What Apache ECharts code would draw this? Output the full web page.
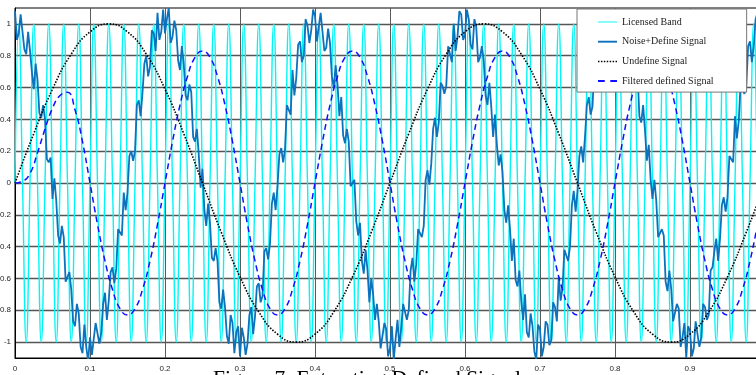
<!DOCTYPE html>
<html>
<head>
<meta charset="utf-8">
<title>Extracting Defined Signal</title>
<script src="https://cdn.jsdelivr.net/npm/echarts@6/dist/echarts.min.js"></script>
<style>
	html, body { margin: 0; padding: 0; background: #fff; }
	#chart { width: 756px; height: 375px; }
</style>
</head>
<body>
<div id="chart"></div>
<script>
	// values
	var xTicks = [0, 0.1, 0.2, 0.3, 0.4, 0.5, 0.6, 0.7, 0.8, 0.9, 1];
	var yTicks = [-1, -0.8, -0.6, -0.4, -0.2, 0, 0.2, 0.4, 0.6, 0.8, 1];
	var seriesNames = ['Licensed Band', 'Noise+Define Signal', 'Undefine Signal', 'Filtered defined Signal'];

	// step 0.005
	var licensedBand = [
		0, 1, 0, -1, 0, 1, 0, -1, 0, 1, 0, -1, 0, 1, 0, -1, 0, 1, 0, -1,
		0, 1, 0, -1, 0, 1, 0, -1, 0, 1, 0, -1, 0, 1, 0, -1, 0, 1, 0, -1,
		0, 1, 0, -1, 0, 1, 0, -1, 0, 1, 0, -1, 0, 1, 0, -1, 0, 1, 0, -1,
		0, 1, 0, -1, 0, 1, 0, -1, 0, 1, 0, -1, 0, 1, 0, -1, 0, 1, 0, -1,
		0, 1, 0, -1, 0, 1, 0, -1, 0, 1, 0, -1, 0, 1, 0, -1, 0, 1, 0, -1,
		0, 1, 0, -1, 0, 1, 0, -1, 0, 1, 0, -1, 0, 1, 0, -1, 0, 1, 0, -1,
		0, 1, 0, -1, 0, 1, 0, -1, 0, 1, 0, -1, 0, 1, 0, -1, 0, 1, 0, -1,
		0, 1, 0, -1, 0, 1, 0, -1, 0, 1, 0, -1, 0, 1, 0, -1, 0, 1, 0, -1,
		0, 1, 0, -1, 0, 1, 0, -1, 0, 1, 0, -1, 0, 1, 0, -1, 0, 1, 0, -1,
		0, 1, 0, -1, 0, 1, 0, -1, 0, 1, 0, -1, 0, 1, 0, -1, 0, 1, 0, -1,
		0
	];
	var licensedStep = 0.005;

	// step 0.0025
	var noiseSignal = [
		1.08, 0.90, 0.94, 1.06, 1.05, 0.84, 0.81, 0.95, 0.83, 0.70,
		0.59, 0.75, 0.65, 0.44, 0.41, 0.49, 0.40, 0.15, 0.13, 0.16,
		-0.10, 0.03, -0.11, -0.33, -0.38, -0.27, -0.34, -0.62, -0.61, -0.56,
		-0.67, -0.87, -0.90, -0.76, -0.82, -1.03, -1.07, -0.89, -1.03, -1.12,
		-0.97, -1.08, -1.09, -0.88, -0.87, -1.01, -0.94, -0.76, -0.69, -0.86,
		-0.74, -0.56, -0.53, -0.63, -0.54, -0.29, -0.29, -0.33, -0.06, -0.17,
		-0.06, 0.17, 0.20, 0.14, 0.20, 0.49, 0.52, 0.42, 0.57, 0.75,
		0.80, 0.67, 0.73, 0.96, 0.94, 0.83, 1.07, 0.90, 0.95, 1.09,
		0.94, 1.03, 1.10, 0.88, 0.92, 1.02, 0.96, 0.77, 0.71, 0.86,
		0.75, 0.55, 0.52, 0.62, 0.57, 0.29, 0.26, 0.34, 0.18, -0.03,
		0.09, -0.17, -0.27, -0.13, -0.25, -0.47, -0.49, -0.41, -0.49, -0.75,
		-0.79, -0.67, -0.78, -0.96, -1.01, -0.83, -0.88, -1.07, -0.94, -0.90,
		-1.09, -0.91, -0.97, -1.08, -1.01, -0.83, -0.78, -0.95, -0.84, -0.65,
		-0.63, -0.75, -0.71, -0.43, -0.41, -0.48, -0.38, -0.13, -0.06, -0.17,
		-0.02, 0.18, 0.22, 0.13, 0.21, 0.49, 0.48, 0.43, 0.71, 0.55,
		0.66, 0.87, 0.89, 0.76, 0.80, 1.03, 0.99, 0.88, 0.96, 1.09,
		1.05, 0.89, 0.90, 1.07, 1.07, 0.83, 0.85, 0.97, 0.88, 0.67,
		0.60, 0.74, 0.62, 0.42, 0.54, 0.30, 0.25, 0.34, 0.26, -0.02,
		-0.03, 0.02, -0.24, -0.33, -0.25, -0.49, -0.57, -0.42, -0.55, -0.75,
		-0.60, -0.70, -0.86, -0.76, -0.87, -1.04, -1.05, -0.88, -0.92, -1.09,
		-1.04, -0.90, -1.11, -0.98, -0.86, -1.03, -0.91, -0.76, -0.76, -0.86,
		-0.80, -0.55, -0.47, -0.62, -0.51, -0.29, -0.28, -0.34, -0.27, 0.02,
		0.08, -0.01, 0.12, 0.34, 0.41, 0.29, 0.38, 0.63, 0.61, 0.56,
		0.61, 0.86, 0.87, 0.76, 1.00, 0.83, 0.92, 1.08, 1.06, 0.90,
		0.93, 1.09, 1.03, 0.87, 0.84, 1.03, 0.98, 0.76, 0.79, 0.86,
		0.77, 0.55, 0.49, 0.63, 0.48, 0.29, 0.43, 0.24, 0.11, 0.18,
		0.07, -0.17, -0.25, -0.14, -0.29, -0.49, -0.35, -0.61, -0.65, -0.55,
		-0.74, -0.86, -0.70, -0.94, -0.97, -0.82, -0.90, -1.06, -1.11, -0.89,
		-0.92, -1.09, -1.03, -0.87, -0.89, -1.02, -0.99, -0.75, -0.78, -0.87,
		-0.59, -0.74, -0.66, -0.42, -0.43, -0.49, -0.40, -0.14, -0.05, -0.18,
		-0.05, 0.17, 0.23, 0.13, 0.29, 0.49, 0.54, 0.43, 0.48, 0.75,
		0.75, 0.66, 0.75, 0.96, 0.99, 0.83, 0.87, 1.07, 1.04, 0.91,
		1.06, 0.89, 0.91, 1.07, 0.98, 0.83, 0.77, 0.96, 0.90, 0.67,
		0.67, 0.75, 0.70, 0.42, 0.38, 0.49, 0.33, 0.14, 0.24, 0.02,
		-0.10, 0.02, -0.11, -0.34, -0.34, -0.29, -0.33, -0.62, -0.68, -0.55,
		-0.67, -0.87, -0.87, -0.76, -0.79, -1.03, -0.97, -0.88, -1.10, -0.90,
		-0.93, -1.09, -1.04, -0.87, -0.86, -1.03, -0.97, -0.76, -0.78, -0.86,
		-0.83, -0.55, -0.53, -0.43, -0.35, -0.49, -0.35, -0.14, -0.09, -0.18,
		-0.09, 0.17, 0.18, 0.13, 0.42, 0.28, 0.39, 0.63, 0.63, 0.56,
		0.61, 0.86, 0.89, 0.76, 0.86, 1.03, 1.07, 0.88, 0.92, 1.09,
		1.05
	];
	var noiseStep = 0.0025;

	// step 0.025
	var undefineSignal = [
		0, 0.31, 0.59, 0.81, 0.95, 1, 0.95, 0.81, 0.59, 0.31,
		0, -0.31, -0.59, -0.81, -0.95, -1, -0.95, -0.81, -0.59, -0.31,
		0, 0.31, 0.59, 0.81, 0.95, 1, 0.95, 0.81, 0.59, 0.31,
		0, -0.31, -0.59, -0.81, -0.95, -1, -0.95, -0.81, -0.59, -0.31,
		0
	];
	var undefineStep = 0.025;

	// step 0.01
	var filteredSignal = [
		0, 0.01, 0.06, 0.19, 0.34, 0.47, 0.55, 0.57, 0.46, 0.26,
		0, -0.26, -0.49, -0.67, -0.79, -0.83, -0.79, -0.67, -0.49, -0.26,
		0, 0.26, 0.49, 0.67, 0.79, 0.83, 0.79, 0.67, 0.49, 0.26,
		0, -0.26, -0.49, -0.67, -0.79, -0.83, -0.79, -0.67, -0.49, -0.26,
		0, 0.26, 0.49, 0.67, 0.79, 0.83, 0.79, 0.67, 0.49, 0.26,
		0, -0.26, -0.49, -0.67, -0.79, -0.83, -0.79, -0.67, -0.49, -0.26,
		0, 0.26, 0.49, 0.67, 0.79, 0.83, 0.79, 0.67, 0.49, 0.26,
		0, -0.26, -0.49, -0.67, -0.79, -0.83, -0.79, -0.67, -0.49, -0.26,
		0, 0.26, 0.49, 0.67, 0.79, 0.83, 0.79, 0.67, 0.49, 0.26,
		0, -0.26, -0.49, -0.67, -0.79, -0.83, -0.79, -0.67, -0.49, -0.26,
		0
	];
	var filteredStep = 0.01;

	function toPairs(values, step) {
		return values.map(function (v, i) {
			return [+(i * step).toFixed(4), v];
		});
	}

	// legend samples drawn as small paths (solid, thick, dotted, dashed)
	var legendIcons = [
		'path://M0,0h20v1h-20z',
		'path://M0,0h20v2h-20z',
		'path://M0,0h1.5v1.5h-1.5z M3,0h1.5v1.5h-1.5z M6,0h1.5v1.5h-1.5z M9,0h1.5v1.5h-1.5z M12,0h1.5v1.5h-1.5z M15,0h1.5v1.5h-1.5z M18,0h1.5v1.5h-1.5z',
		'path://M0,0h5.5v1.6h-5.5z M10,0h5.5v1.6h-5.5z'
	];

	var chart = echarts.init(document.getElementById('chart'), null, { renderer: 'canvas' });

	var option = {
		animation: false,
		backgroundColor: '#fff',
		title: {
			text: 'Figure 7: Extracting Defined Signal',
			left: 213,
			top: 368,
			padding: 0,
			textStyle: {
				fontFamily: 'Liberation Serif',
				fontSize: 21.5,
				fontWeight: 'normal',
				color: '#000'
			}
		},
		legend: {
			data: seriesNames.map(function (name, i) {
				return { name: name, icon: legendIcons[i] };
			}),
			orient: 'vertical',
			left: 577,
			top: 9,
			padding: [8, 33, 6, 21],
			itemWidth: 19,
			itemHeight: 10,
			itemGap: 9.7,
			backgroundColor: '#fff',
			borderColor: '#777',
			borderWidth: 1,
			borderRadius: 0,
			textStyle: {
				fontFamily: 'Liberation Serif',
				fontSize: 10,
				color: '#222'
			}
		},
		grid: {
			left: 15,
			top: 8,
			width: 750,
			height: 350,
			outerBoundsMode: 'none',
			containLabel: false,
			show: true,
			borderColor: '#000',
			borderWidth: 1,
			backgroundColor: 'transparent'
		},
		xAxis: {
			type: 'value',
			min: xTicks[0],
			max: xTicks[xTicks.length - 1],
			interval: 0.1,
			axisLine: { show: true, onZero: false, lineStyle: { color: '#000', width: 1 } },
			axisTick: { show: false },
			axisLabel: {
				margin: 7,
				fontFamily: 'Liberation Sans',
				fontSize: 8,
				color: '#262626'
			},
			splitLine: { show: true, lineStyle: { color: '#5a5a5a', width: 1 } }
		},
		yAxis: {
			type: 'value',
			min: -1.1,
			max: 1.1,
			axisLine: { show: true, onZero: false, lineStyle: { color: '#000', width: 1 } },
			axisTick: { show: false, customValues: yTicks },
			axisLabel: {
				customValues: yTicks,
				margin: 4,
				fontFamily: 'Liberation Sans',
				fontSize: 8,
				color: '#262626'
			},
			splitLine: { show: true, lineStyle: { color: '#555', width: 1.4 } }
		},
		series: [
			{
				name: seriesNames[0],
				type: 'line',
				data: toPairs(licensedBand, licensedStep),
				symbol: 'none',
				smooth: 0.5,
				lineStyle: { color: '#00f6f6', width: 1.4 },
				itemStyle: { color: '#00f6f6' }
			},
			{
				name: seriesNames[1],
				type: 'line',
				data: toPairs(noiseSignal, noiseStep),
				symbol: 'none',
				lineStyle: { color: '#0b72bd', width: 1.8 },
				itemStyle: { color: '#0b72bd' }
			},
			{
				name: seriesNames[2],
				type: 'line',
				data: toPairs(undefineSignal, undefineStep),
				symbol: 'none',
				smooth: true,
				lineStyle: { color: '#000', width: 1.6, type: [1.5, 1.5] },
				itemStyle: { color: '#000' }
			},
			{
				name: seriesNames[3],
				type: 'line',
				data: toPairs(filteredSignal, filteredStep),
				symbol: 'none',
				smooth: true,
				lineStyle: { color: '#1010ff', width: 1.5, type: [6, 4] },
				itemStyle: { color: '#1010ff' }
			}
		]
	};

	chart.setOption(option);
</script>
</body>
</html>
